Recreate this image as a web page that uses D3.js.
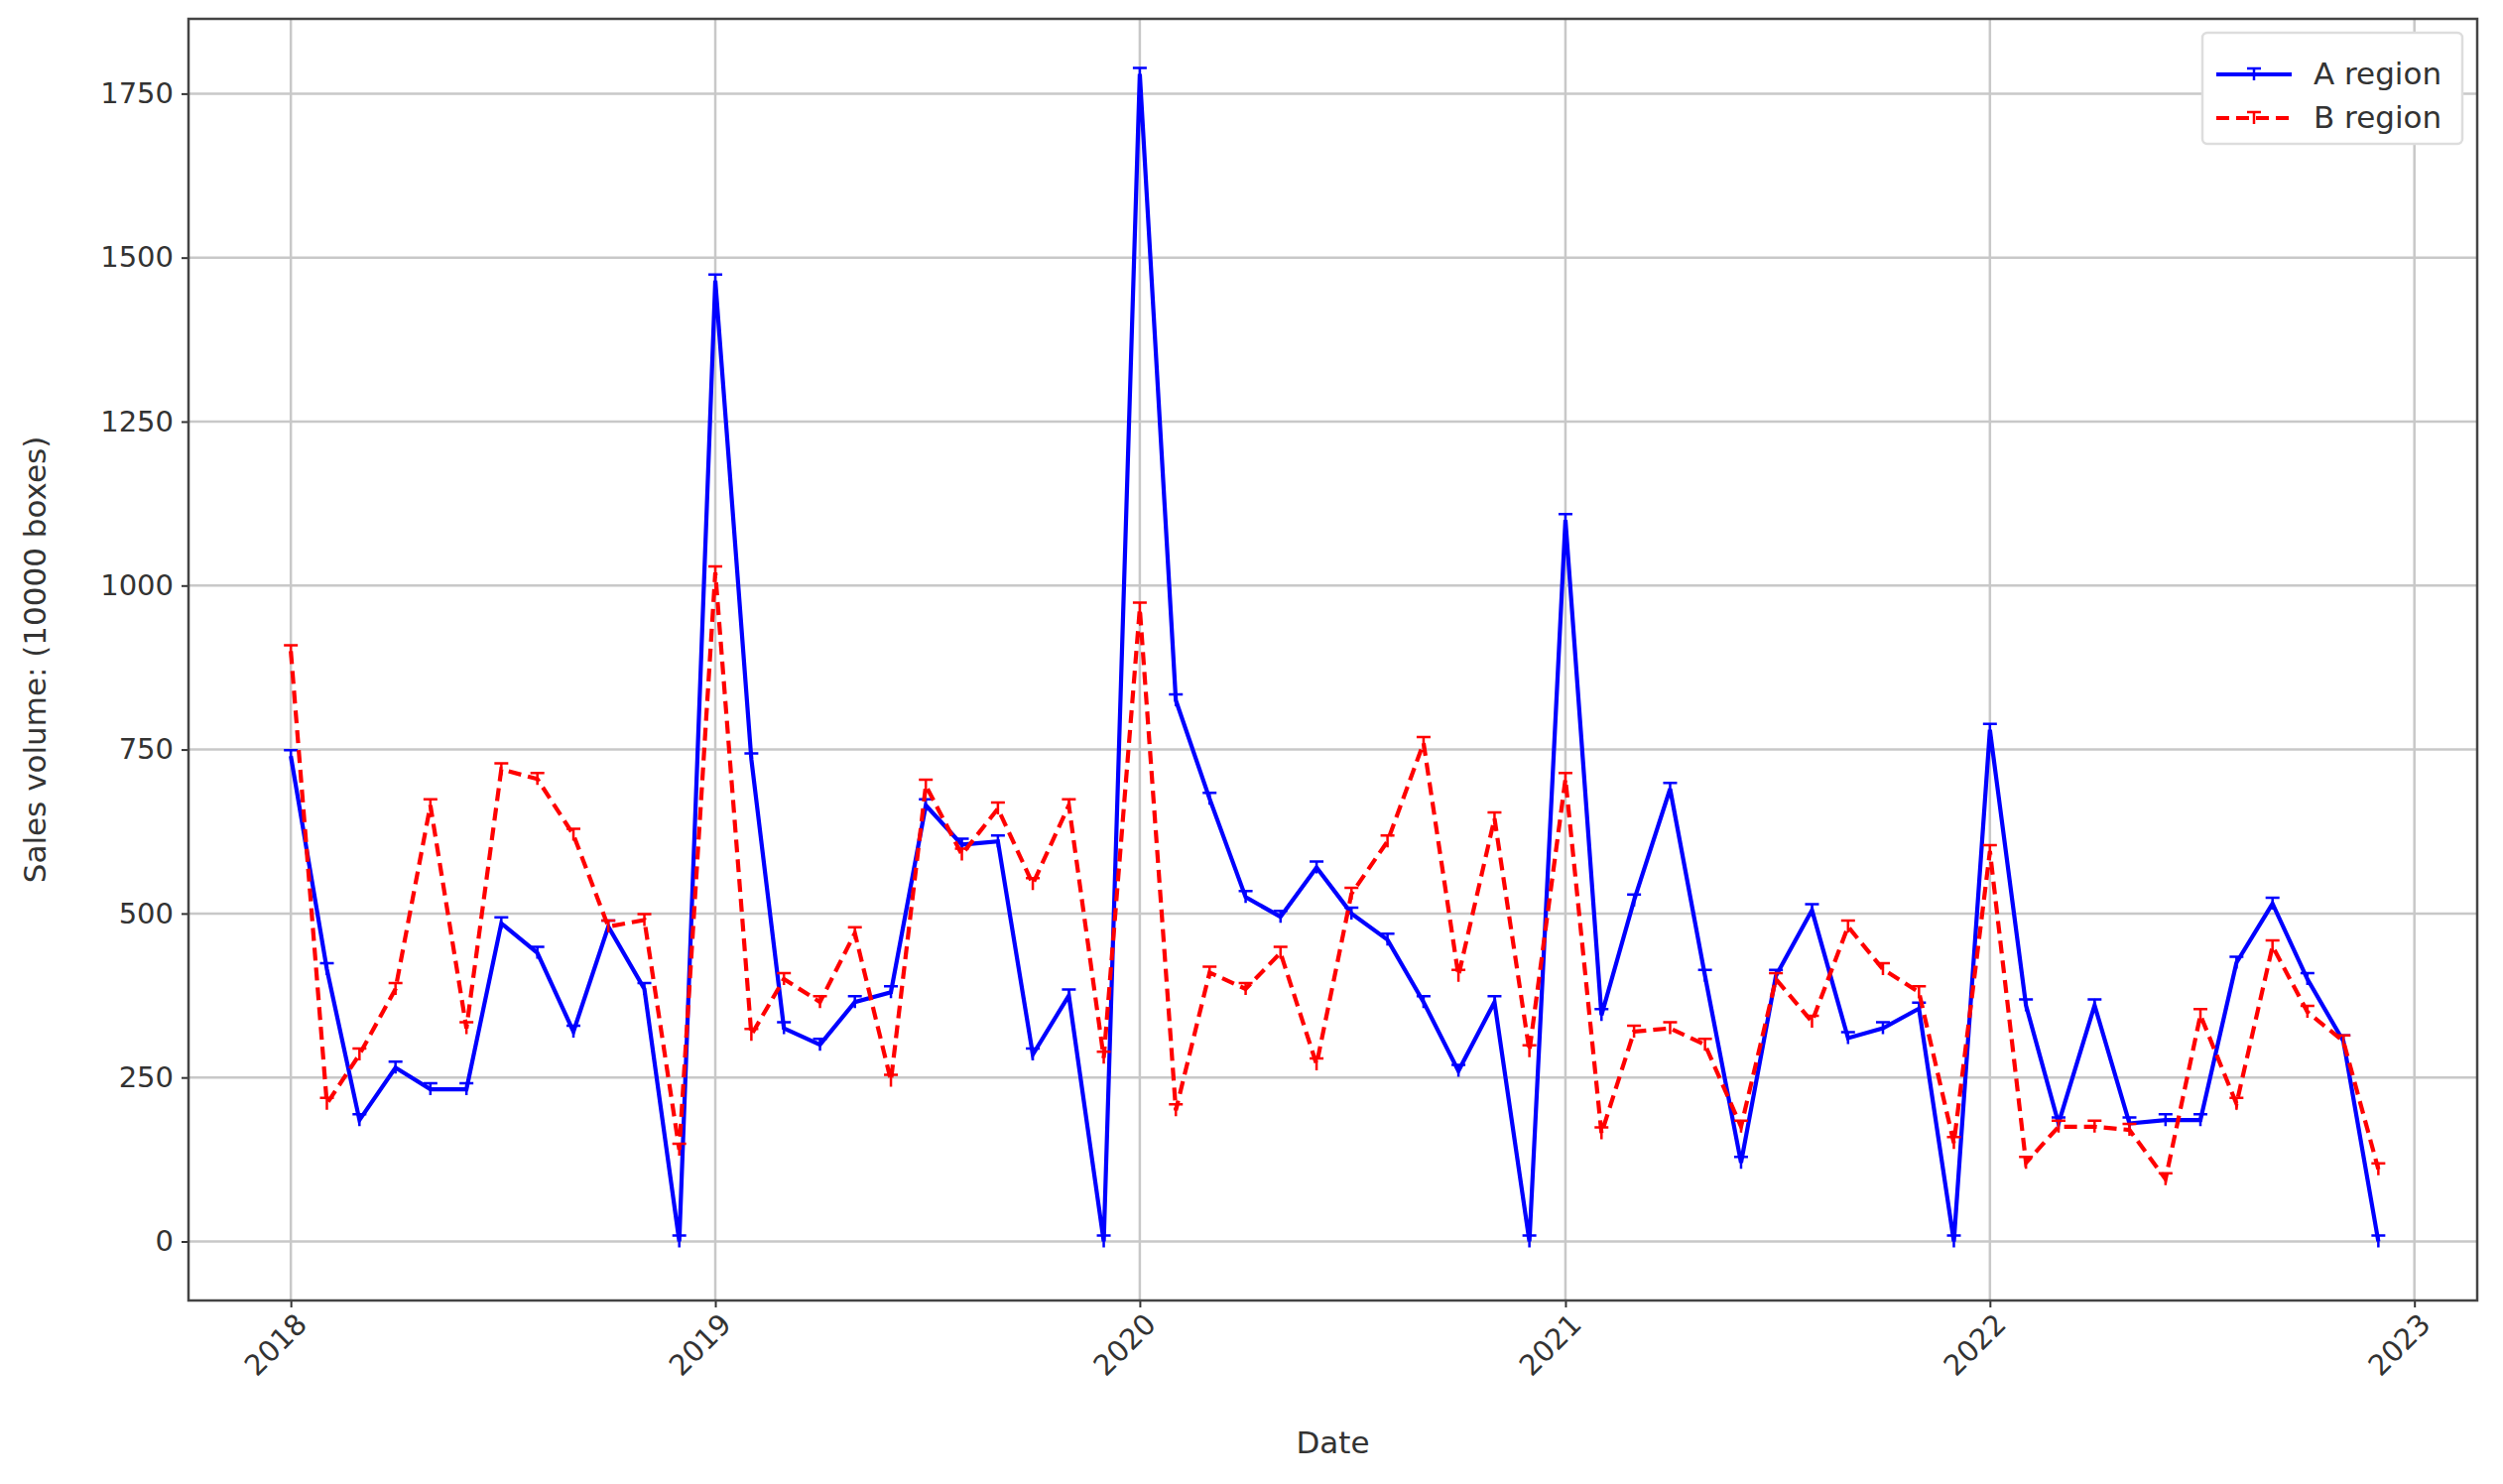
<!DOCTYPE html>
<html>
<head>
<meta charset="utf-8">
<script src="https://cdn.jsdelivr.net/npm/d3@7"></script>
<style>
  body { margin: 0; background: #fff; }
  text { font-family: "DejaVu Sans", sans-serif; fill: #333; }
</style>
</head>
<body>
<script>
const years = [2018, 2019, 2020, 2021, 2022];
const aRegion = [
  740, 415, 185, 265, 232, 232, 485, 440, 320, 480, 385, 0,
  1465, 735, 325, 300, 365, 380, 665, 605, 610, 285, 375, 0,
  1780, 825, 675, 525, 495, 570, 500, 460, 365, 260, 365, 0,
  1100, 345, 520, 690, 405, 120, 405, 505, 310, 325, 355, 0,
  780, 360, 180, 360, 180, 185, 185, 425, 515, 400, 305, 0
];
const bRegion = [
  900, 210, 285, 385, 665, 325, 720, 705, 620, 480, 490, 140,
  1020, 315, 400, 365, 470, 245, 695, 590, 660, 545, 665, 280,
  965, 200, 410, 385, 440, 270, 530, 610, 760, 405, 645, 290,
  705, 165, 320, 325, 300, 175, 400, 335, 480, 415, 380, 150,
  595, 120, 175, 175, 170, 95, 345, 210, 450, 350, 305, 110
];
const yTicks = [0, 250, 500, 750, 1000, 1250, 1500, 1750];
const xTickYears = [2018, 2019, 2020, 2021, 2022, 2023];

const dates = [];
years.forEach(y => d3.range(12).forEach(m => dates.push(new Date(y, m, 1))));

const margin = { top: 19, right: 26, bottom: 185, left: 190 };
const W = 2523, H = 1496;
const width = W - margin.left - margin.right;
const height = H - margin.top - margin.bottom;

const svg = d3.select('body').append('svg')
  .attr('width', W).attr('height', H);
const g = svg.append('g').attr('transform', `translate(${margin.left},${margin.top})`);

const x = d3.scaleTime()
  .domain([new Date(2017, 9, 5), new Date(2023, 1, 24)])
  .range([0, width]);
const y = d3.scaleLinear().domain([-90, 1864]).range([height, 0]);

// grid
g.selectAll('.vg').data(xTickYears).enter().append('line')
  .attr('x1', d => x(new Date(d, 0, 1))).attr('x2', d => x(new Date(d, 0, 1)))
  .attr('y1', 0).attr('y2', height)
  .style('stroke', '#c8c8c8').style('stroke-width', 2.5);
g.selectAll('.hg').data(yTicks).enter().append('line')
  .attr('x1', 0).attr('x2', width)
  .attr('y1', d => y(d)).attr('y2', d => y(d))
  .style('stroke', '#c8c8c8').style('stroke-width', 2.5);

// axes
const xAxis = g.append('g').attr('transform', `translate(0,${height})`)
  .call(d3.axisBottom(x).tickValues(xTickYears.map(d => new Date(d, 0, 1)))
    .tickFormat(d3.timeFormat('%Y')).tickSize(7).tickPadding(6));
xAxis.selectAll('text')
  .style('font-size', '29px')
  .style('text-anchor', 'end')
  .attr('dx', '-0.2em').attr('dy', '0.6em')
  .attr('transform', 'rotate(-45)');
const yAxis = g.append('g')
  .call(d3.axisLeft(y).tickValues(yTicks).tickFormat(d3.format('d')).tickSize(7).tickPadding(8));
yAxis.selectAll('text').style('font-size', '29px');
[xAxis, yAxis].forEach(a => {
  a.select('.domain').remove();
  a.selectAll('line').style('stroke', '#333').style('stroke-width', 2);
});

g.append('rect').attr('width', width).attr('height', height)
  .style('fill', 'none').style('stroke', '#444').style('stroke-width', 2.5);

// lines
const line = d3.line().x(d => x(d[0])).y(d => y(d[1]));
const series = [
  { name: 'A region', values: aRegion, color: '#0000ff', dash: null },
  { name: 'B region', values: bRegion, color: '#ff0000', dash: '13,7' }
];
const tri = 'M-7,-6L7,-6M0,-6L0,6';

series.forEach(s => {
  const pts = dates.map((d, i) => [d, s.values[i]]);
  g.append('path').datum(pts).attr('d', line)
    .style('fill', 'none').style('stroke', s.color).style('stroke-width', 4.2)
    .style('stroke-dasharray', s.dash);
  g.selectAll(null).data(pts).enter().append('path')
    .attr('transform', d => `translate(${x(d[0])},${y(d[1])})`)
    .attr('d', tri)
    .style('fill', 'none').style('stroke', s.color).style('stroke-width', 2.5);
});

// labels
svg.append('text').attr('x', margin.left + width / 2).attr('y', 1465)
  .attr('text-anchor', 'middle').style('font-size', '31px').text('Date');
svg.append('text')
  .attr('transform', `translate(46,${margin.top + height / 2}) rotate(-90)`)
  .attr('text-anchor', 'middle').style('font-size', '31px').text('Sales volume: (10000 boxes)');

// legend
const lg = g.append('g').attr('transform', `translate(${width - 277},14)`);
lg.append('rect').attr('width', 262).attr('height', 112).attr('rx', 5)
  .style('fill', '#fff').style('stroke', '#ddd').style('stroke-width', 2.5);
series.forEach((s, i) => {
  const yy = 42 + i * 44;
  lg.append('line').attr('x1', 14).attr('x2', 90).attr('y1', yy).attr('y2', yy)
    .style('stroke', s.color).style('stroke-width', 4.2).style('stroke-dasharray', s.dash);
  lg.append('path').attr('transform', `translate(52,${yy})`).attr('d', tri)
    .style('fill', 'none').style('stroke', s.color).style('stroke-width', 2.5);
  lg.append('text').attr('x', 112).attr('y', yy + 10).style('font-size', '31px').text(s.name);
});
</script>
</body>
</html>
